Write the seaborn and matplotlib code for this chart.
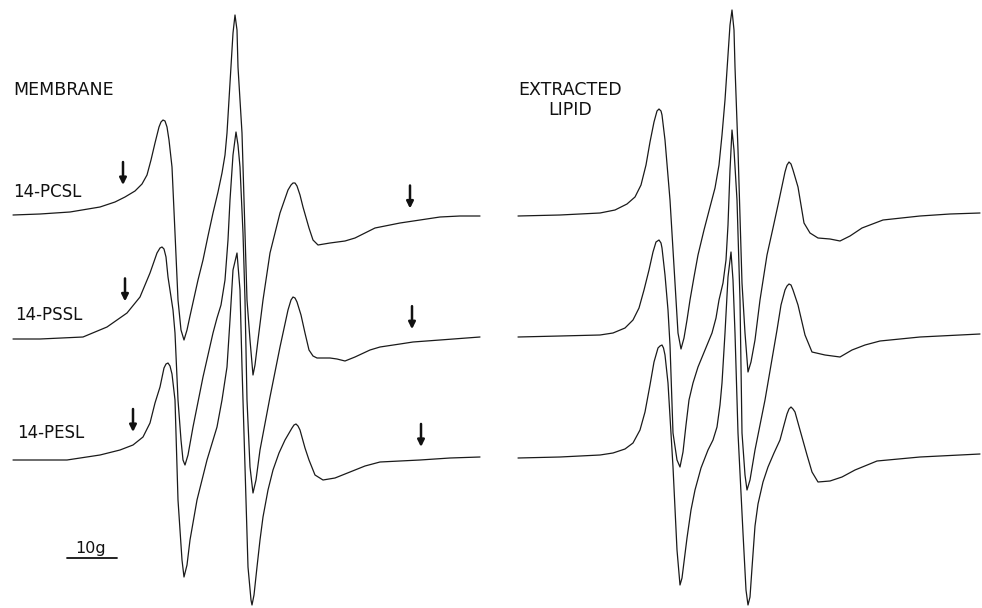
import numpy as np
import pandas as pd
import matplotlib
matplotlib.use("Agg")
import matplotlib.pyplot as plt
import seaborn as sns

# ---------------- data: (field in gauss relative to centre line, signal in arbitrary units) -------------
pcsl = [(-44.4, 0), (-39.0, 1), (-33.0, 3), (-27.0, 8), (-24.0, 13), (-22.0, 18), (-20.0, 24), (-18.6, 31),
        (-17.6, 40), (-16.8, 55), (-16.0, 72), (-15.2, 88), (-14.8, 93), (-14.4, 95), (-14.0, 94), (-13.6, 88),
        (-13.2, 75), (-12.6, 48), (-12.0, -18), (-11.4, -85), (-10.8, -115), (-10.2, -125), (-9.6, -115),
        (-9.0, -101), (-8.2, -83), (-7.4, -65), (-6.4, -45), (-5.4, -21), (-4.4, 2), (-3.4, 23), (-2.6, 42),
        (-2.0, 60), (-1.6, 82), (-1.0, 132), (-0.4, 182), (0.0, 200), (0.4, 185), (0.6, 148), (1.4, 82),
        (2.0, -18), (2.4, -85), (3.0, -125), (3.6, -160), (4.0, -150), (4.6, -125), (5.6, -85), (7.0, -38),
        (9.0, 2), (10.6, 25), (11.2, 30), (11.6, 32), (12.0, 32), (12.4, 29), (13.0, 20), (13.6, 8),
        (14.8, -13), (15.6, -25), (16.6, -30), (19.0, -28), (22.0, -26), (24.0, -23), (26.0, -18),
        (28.0, -13), (31.0, -10), (33.0, -8), (37.0, -5), (41.0, -2), (45.0, -1), (49.0, -1)]

pssl = [(-44.4, 0), (-39.0, 0), (-30.4, 2), (-25.6, 12), (-21.6, 26), (-19.0, 42), (-17.0, 66), (-15.6, 86),
        (-15.0, 91), (-14.6, 92), (-14.2, 90), (-13.8, 82), (-13.4, 62), (-12.4, 29), (-12.0, 6), (-11.4, -61),
        (-10.8, -101), (-10.4, -121), (-10.0, -126), (-9.4, -116), (-8.4, -88), (-6.4, -38), (-4.4, 6),
        (-3.6, 21), (-2.8, 34), (-2.0, 59), (-1.4, 99), (-1.0, 139), (-0.4, 184), (0.2, 207), (0.6, 194),
        (1.0, 172), (1.6, 106), (2.0, 39), (2.4, -61), (3.0, -128), (3.6, -154), (4.2, -141), (5.0, -111),
        (7.0, -58), (9.0, -8), (10.6, 29), (11.2, 39), (11.6, 42), (12.0, 41), (12.4, 37), (13.2, 24),
        (14.0, 6), (14.8, -11), (15.6, -17), (16.4, -19), (19.0, -19), (20.4, -20), (22.0, -22),
        (24.0, -18), (27.0, -11), (29.0, -8), (33.0, -5), (35.6, -3), (41.0, -1), (49.0, 2)]

pesl = [(-44.4, 0), (-33.6, 0), (-27.0, 5), (-23.0, 10), (-20.4, 15), (-18.4, 23), (-17.0, 37), (-16.0, 57),
        (-15.0, 73), (-14.2, 92), (-13.8, 96), (-13.4, 97), (-13.0, 94), (-12.6, 86), (-12.0, 60),
        (-11.4, -40), (-10.6, -100), (-10.2, -117), (-9.6, -105), (-9.0, -80), (-7.6, -40), (-5.6, 0),
        (-3.6, 33), (-2.6, 60), (-1.6, 93), (-1.0, 140), (-0.4, 190), (0.4, 207), (1.0, 170), (1.4, 93),
        (2.0, -7), (2.6, -107), (3.2, -140), (3.4, -145), (3.8, -135), (4.4, -107), (5.0, -80), (5.6, -57),
        (6.6, -30), (7.6, -10), (8.8, 7), (10.0, 20), (11.4, 32), (11.8, 35), (12.2, 36), (12.6, 34),
        (13.0, 30), (14.0, 12), (14.8, 0), (16.0, -15), (17.6, -20), (20.0, -18), (23.0, -12), (26.0, -6),
        (29.0, -2), (37.0, 0), (43.0, 2), (49.0, 3)]

lipid_pc = [(-42.8, 0), (-34.4, 1), (-26.4, 3), (-23.4, 6), (-21.0, 12), (-19.4, 19), (-18.2, 31), (-17.2, 51),
            (-16.4, 74), (-15.6, 94), (-15.0, 105), (-14.6, 107), (-14.2, 105), (-14.0, 101), (-13.4, 76),
            (-12.4, 16), (-11.4, -67), (-10.8, -117), (-10.2, -133), (-9.6, -122), (-9.0, -104), (-8.4, -84),
            (-7.6, -61), (-6.8, -39), (-5.6, -14), (-4.4, 9), (-3.4, 28), (-2.6, 51), (-2.0, 81), (-1.4, 116),
            (-0.8, 161), (-0.4, 191), (0.0, 206), (0.4, 186), (0.6, 149), (1.2, 66), (2.0, -67), (2.6, -117),
            (3.2, -156), (3.8, -146), (4.6, -124), (5.6, -84), (7.0, -39), (8.2, -12), (9.2, 11), (10.6, 44),
            (11.0, 51), (11.4, 54), (11.8, 52), (12.2, 46), (13.2, 29), (14.4, -7), (15.6, -17), (17.2, -22),
            (19.6, -23), (21.6, -25), (23.6, -20), (26.0, -12), (30.2, -4), (37.6, 0), (43.6, 2), (49.6, 3)]

lipid_ps = [(-42.8, 0), (-34.4, 1), (-26.4, 2), (-23.8, 4), (-21.4, 9), (-19.8, 17), (-18.6, 29), (-17.6, 47),
            (-16.6, 67), (-15.8, 85), (-15.2, 95), (-14.6, 97), (-14.2, 94), (-14.0, 89), (-13.4, 62),
            (-12.8, 27), (-12.4, -8), (-11.8, -96), (-11.0, -123), (-10.4, -130), (-9.8, -115), (-9.2, -88),
            (-8.6, -63), (-7.8, -46), (-6.8, -30), (-5.4, -13), (-4.0, 4), (-3.2, 19), (-2.6, 37), (-1.8, 54),
            (-1.2, 77), (-0.8, 112), (-0.4, 167), (0.0, 207), (0.4, 187), (1.0, 137), (1.6, 37), (2.0, -96),
            (2.6, -138), (3.0, -153), (3.6, -143), (4.6, -113), (6.6, -63), (9.0, 7), (9.8, 32), (10.6, 47),
            (11.0, 51), (11.4, 53), (11.8, 52), (12.2, 47), (13.2, 32), (14.6, 2), (16.0, -15), (18.6, -18),
            (21.6, -20), (24.0, -13), (26.6, -8), (29.6, -4), (37.6, 0), (49.6, 3)]

lipid_pe = [(-42.8, 0), (-34.4, 1), (-26.4, 3), (-23.8, 5), (-21.4, 9), (-19.8, 15), (-18.4, 28), (-17.4, 46),
            (-16.4, 73), (-15.6, 96), (-14.8, 110), (-14.4, 112), (-14.0, 113), (-13.7, 110), (-13.4, 103),
            (-12.8, 75), (-11.8, -9), (-11.0, -92), (-10.4, -127), (-10.0, -120), (-9.6, -104), (-9.0, -80),
            (-8.2, -52), (-7.4, -32), (-6.2, -10), (-4.8, 8), (-3.8, 18), (-3.0, 31), (-2.4, 53), (-2.0, 75),
            (-1.4, 125), (-0.8, 181), (-0.2, 206), (0.2, 178), (0.6, 125), (1.2, 25), (2.2, -75), (2.8, -132),
            (3.2, -147), (3.6, -139), (4.0, -110), (4.6, -68), (5.2, -46), (6.2, -24), (7.2, -9), (8.4, 5),
            (9.6, 18), (10.4, 33), (11.0, 44), (11.4, 49), (11.8, 51), (12.2, 49), (12.6, 46), (13.6, 28),
            (15.0, 3), (16.0, -14), (17.2, -24), (19.6, -23), (22.0, -19), (24.6, -12), (29.0, -3), (37.6, 1),
            (49.6, 4)]

membrane_labels = ["14-PCSL", "14-PSSL", "14-PESL"]
membrane_arrows = [(-22.4, 35.0), (-22.0, 35.4), (-20.4, 37.2)]  # field positions of arrows (G)
scale_bar_gauss = 10

# ---------------- layout -------------
W, H = 982, 608
sns.set_theme(style="white")
plt.rcParams["font.family"] = ["DejaVu Sans"]
fig = plt.figure(figsize=(W / 100, H / 100), dpi=100, facecolor="white")

px_per_gauss = 5.0
panels = [
    dict(left=0, right=491, origin=235, base=215, offsets=[0, -124, -245], data=[pcsl, pssl, pesl]),
    dict(left=491, right=982, origin=732, base=216, offsets=[0, -121, -242], data=[lipid_pc, lipid_ps, lipid_pe]),
]

axes = []
for p in panels:
    ax = fig.add_axes([p["left"] / W, 0, (p["right"] - p["left"]) / W, 1])
    ax.set_xlim((p["left"] - p["origin"]) / px_per_gauss, (p["right"] - p["origin"]) / px_per_gauss)
    ax.set_ylim(p["base"] - H, p["base"])
    ax.set_axis_off()
    rows = []
    for i, (spec, off) in enumerate(zip(p["data"], p["offsets"])):
        for fv, sv in spec:
            rows.append(dict(field=fv, y=sv + off, spectrum=i))
    df = pd.DataFrame(rows)
    sns.lineplot(data=df, x="field", y="y", units="spectrum", estimator=None, sort=False,
                 color="#1a1a1a", lw=0.9, ax=ax, legend=False)
    for ln in ax.lines:
        ln.set_solid_joinstyle("round")
    axes.append(ax)

# arrows on membrane spectra
axL = axes[0]
for spec, off, arr in zip(panels[0]["data"], panels[0]["offsets"], membrane_arrows):
    f = [a for a, b in spec]
    s = [b for a, b in spec]
    for fx in arr:
        tip = np.interp(fx, f, s) + off + 13
        axL.annotate("", xy=(fx, tip), xytext=(fx, tip + 23),
                     arrowprops=dict(arrowstyle="-|>", color="#111111", lw=1.8,
                                     mutation_scale=10, shrinkA=0, shrinkB=0))

# scale bar 10 g
x0 = (67 - 235) / px_per_gauss
axL.plot([x0, x0 + scale_bar_gauss], [215 - 558, 215 - 558], color="#111111", lw=1.3)

def ftext(x, y, s, **kw):
    fig.text(x / W, 1 - y / H, s, ha="left", va="baseline", color="#111111", **kw)

ftext(13, 95, "MEMBRANE", fontsize=12.5)
ftext(13, 197, membrane_labels[0], fontsize=12)
ftext(15, 320, membrane_labels[1], fontsize=12)
ftext(17, 438, membrane_labels[2], fontsize=12)
ftext(75, 553, f"{scale_bar_gauss}g", fontsize=11.5)
ftext(518, 95, "EXTRACTED", fontsize=12.5)
ftext(548, 115, "LIPID", fontsize=12.5)

fig.savefig("out.png", dpi=100, facecolor="white")
